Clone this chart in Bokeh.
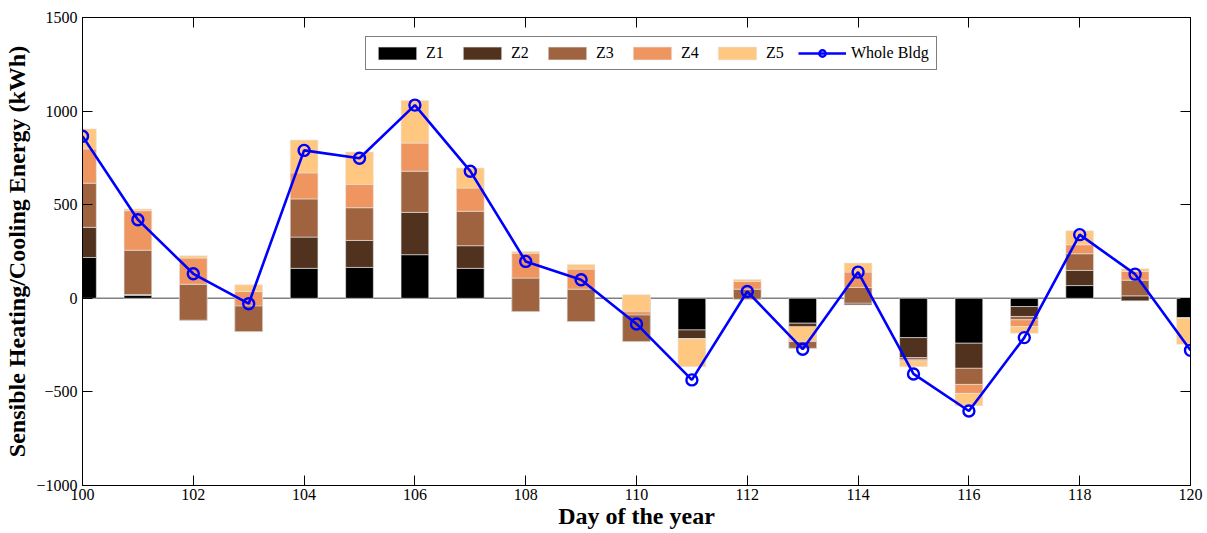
import numpy as np
from bokeh.plotting import figure
from bokeh.models import (ColumnDataSource, Range1d, LinearAxis, FixedTicker,
                          Legend, LegendItem, Span)
from bokeh.embed import file_html
from bokeh.resources import INLINE

days = list(range(100, 121))
zone_names = ["Z1", "Z2", "Z3", "Z4", "Z5"]
z1 = [218, 15, -40, -90, 160, 165, 233, 160, -35, -60, -120, -169, -2, -133, -35, -210, -240, -44, 68, -13, -106]
z2 = [161, 5, -77, -88, 167, 144, 226, 121, -36, -64, -111, -48, -3, -134, 9, -107, -134, -53, 81, 26, 0]
z3 = [236, 237, 192, 138, 204, 175, 220, 184, 179, 173, 143, 0, 54, 36, 84, -12, -86, -18, 89, 84, 0]
z4 = [183, 211, 140, 76, 139, 125, 150, 124, 133, 107, 17, 0, 41, 4, 82, -6, -48, -36, 48, 46, 0]
z5 = [107, 9, 12, 36, 175, 173, 228, 107, 9, 25, 90, -148, 11, 76, 48, -30, -66, -36, 75, 15, -140]
whole_bldg = [866, 420, 131, -29, 790, 748, 1032, 679, 197, 99, -137, -436, 36, -272, 140, -404, -602, -210, 340, 129, -278]

y_ticks = [-1000, -500, 0, 500, 1000, 1500]
x_ticks = list(range(100, 121, 2))

colors = ["#000000", "#50321F", "#9F643F", "#EF955F", "#FFC77F"]
FONT = "Liberation Serif"

p = figure(width=1207, height=533, output_backend="svg", toolbar_location=None,
           x_range=Range1d(100, 120), y_range=Range1d(-1000, 1500),
           min_border_left=82, min_border_right=17, min_border_top=17,
           min_border_bottom=48)
p.xgrid.visible = False
p.ygrid.visible = False
p.outline_line_color = "black"
p.outline_line_width = 1
p.background_fill_color = "white"

base = Span(location=0, dimension="width", line_color="#808080", line_width=1.5)
base.level = "underlay"
p.add_layout(base)

# cumulative stacking (each segment spans previous cumulative sum to new one)
vals = np.array([z1, z2, z3, z4, z5], dtype=float)
cum = np.cumsum(vals, axis=0)
bar_renderers = []
prev = np.zeros(len(days))
for i in range(5):
    src = ColumnDataSource(dict(x=days, bottom=prev.copy(), top=cum[i].copy()))
    r = p.vbar(x="x", bottom="bottom", top="top", width=0.5, source=src,
               fill_color=colors[i], line_color="#e6e6e6", line_width=0.6)
    bar_renderers.append(r)
    prev = cum[i]

lsrc = ColumnDataSource(dict(x=days, y=whole_bldg))
lr = p.line("x", "y", source=lsrc, line_color="#0000FF", line_width=2.6)
sr = p.scatter("x", "y", source=lsrc, marker="circle", size=11,
               fill_color=None, line_color="#0000FF", line_width=2.4)

# axes styling
for ax in [p.xaxis[0], p.yaxis[0]]:
    ax.major_tick_in = 10
    ax.major_tick_out = 0
    ax.minor_tick_line_color = None
    ax.major_label_text_font = FONT
    ax.major_label_text_font_size = "16px"
    ax.major_label_text_color = "black"
    ax.axis_label_text_font = FONT
    ax.axis_label_text_font_style = "bold"
    ax.axis_label_text_color = "black"
    ax.axis_line_color = "black"
    ax.major_tick_line_color = "black"

p.xaxis[0].ticker = FixedTicker(ticks=x_ticks)
p.yaxis[0].ticker = FixedTicker(ticks=y_ticks)
p.xaxis[0].axis_label = "Day of the year"
p.yaxis[0].axis_label = "Sensible Heating/Cooling Energy (kWh)"
p.xaxis[0].axis_label_text_font_size = "24px"
p.yaxis[0].axis_label_text_font_size = "24px"
p.xaxis[0].major_label_standoff = 3
p.yaxis[0].major_label_standoff = 5
p.xaxis[0].axis_label_standoff = 0
p.yaxis[0].axis_label_standoff = 3

top_ax = LinearAxis(ticker=FixedTicker(ticks=x_ticks), major_tick_in=10, major_tick_out=0,
                    minor_tick_line_color=None, major_label_text_font_size="1px",
                    major_label_text_color=None, major_label_standoff=0)
right_ax = LinearAxis(ticker=FixedTicker(ticks=y_ticks), major_tick_in=10, major_tick_out=0,
                      minor_tick_line_color=None, major_label_text_font_size="1px",
                      major_label_text_color=None, major_label_standoff=0)
p.add_layout(top_ax, "above")
p.add_layout(right_ax, "right")

items = [LegendItem(label=zone_names[i], renderers=[bar_renderers[i]]) for i in range(5)]
items.append(LegendItem(label="Whole Bldg", renderers=[lr, sr]))
legend = Legend(items=items, orientation="horizontal", location=(283, 415),
                glyph_width=48, glyph_height=16, label_standoff=5, spacing=12,
                padding=7, margin=0, label_text_font=FONT, label_text_font_size="16px",
                label_text_color="black",
                border_line_color="black", border_line_width=1,
                background_fill_color="white", background_fill_alpha=1.0)
p.add_layout(legend, "center")

open("out.html", "w").write(file_html(p, INLINE))
